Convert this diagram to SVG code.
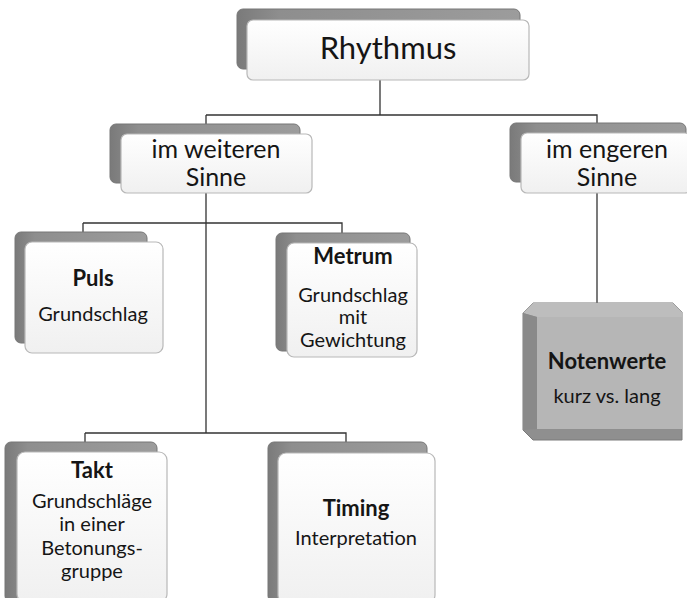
<svg xmlns="http://www.w3.org/2000/svg" width="687" height="598" viewBox="0 0 687 598">
<defs>
<linearGradient id="bk" x1="0" y1="0" x2="1" y2="0">
<stop offset="0" stop-color="#7a7a7a"/>
<stop offset="0.15" stop-color="#8e8e8e"/>
<stop offset="1" stop-color="#9c9c9c"/>
</linearGradient>
<linearGradient id="fr" x1="0" y1="0" x2="0" y2="1">
<stop offset="0" stop-color="#ffffff"/>
<stop offset="1" stop-color="#f0f0f0"/>
</linearGradient>
</defs>
<style>
.back{fill:url(#bk);stroke:#777;stroke-width:1}
.front{fill:url(#fr);stroke:#b8b8b8;stroke-width:1.2}
.t{font-family:Lato,"Open Sans",sans-serif;fill:#151515;text-anchor:middle}
.b{font-weight:bold}
.c{fill:none;stroke:#333;stroke-width:1.3}
</style>
<rect width="687" height="598" fill="#ffffff"/>
<g id="connectors">
<path class="c" d="M380 80V115M206 115H597V133M206 115V134"/>
<path class="c" d="M206 193V433M83 223H342V243M83 223V242"/>
<path class="c" d="M85 433H346V453M85 433V452"/>
<path class="c" d="M597 193V303"/>
</g>
<g id="rhythmus">
<rect class="back" x="237" y="9" width="283" height="60" rx="6"/>
<rect class="front" x="247" y="20" width="282" height="60" rx="6"/>
<text class="t" x="388" y="59" font-size="31">Rhythmus</text>
</g>
<g id="weiteren">
<rect class="back" x="110" y="124" width="190" height="59" rx="6"/>
<rect class="front" x="121" y="134" width="191" height="59" rx="6"/>
<text class="t" x="216" y="158" font-size="25">im weiteren</text>
<text class="t" x="216" y="186" font-size="25">Sinne</text>
</g>
<g id="engeren">
<rect class="back" x="510" y="123" width="176" height="59" rx="6"/>
<rect class="front" x="521" y="133" width="170" height="60" rx="6"/>
<text class="t" x="607" y="158" font-size="25">im engeren</text>
<text class="t" x="607" y="186" font-size="25">Sinne</text>
</g>
<g id="puls">
<rect class="back" x="15" y="232" width="132" height="111" rx="6"/>
<rect class="front" x="25" y="242" width="138" height="111" rx="7"/>
<text class="t b" x="93" y="286" font-size="22">Puls</text>
<text class="t" x="93" y="321" font-size="20">Grundschlag</text>
</g>
<g id="metrum">
<rect class="back" x="276" y="233" width="134" height="118" rx="6"/>
<rect class="front" x="287" y="243" width="130" height="114" rx="7"/>
<text class="t b" x="353" y="264" font-size="22">Metrum</text>
<text class="t" x="353" y="302" font-size="20">Grundschlag</text>
<text class="t" x="353" y="324" font-size="20">mit</text>
<text class="t" x="353" y="347" font-size="20">Gewichtung</text>
</g>
<g id="notenwerte">
<path d="M533 303H673L682 312V440H533L523 430V313Z" fill="#8f8f8f" stroke="#7a7a7a"/>
<path d="M533 303H673L682 312V317H537L523 313Z" fill="#bdbdbd"/>
<rect x="537" y="317" width="145" height="112" fill="#b6b6b6"/>
<path d="M523 313L537 317V429L523 430Z" fill="#8a8a8a"/>
<text class="t b" x="607" y="369" font-size="22">Notenwerte</text>
<text class="t" x="607" y="403" font-size="20">kurz vs. lang</text>
</g>
<g id="takt">
<rect class="back" x="5" y="442" width="152" height="160" rx="6"/>
<rect class="front" x="17" y="452" width="150" height="150" rx="8"/>
<text class="t b" x="92" y="478" font-size="22">Takt</text>
<text class="t" x="92" y="508" font-size="20">Grundschläge</text>
<text class="t" x="92" y="531" font-size="20">in einer</text>
<text class="t" x="92" y="555" font-size="20">Betonungs-</text>
<text class="t" x="92" y="578" font-size="20">gruppe</text>
</g>
<g id="timing">
<rect class="back" x="268" y="442" width="159" height="160" rx="6"/>
<rect class="front" x="278" y="453" width="157" height="150" rx="8"/>
<text class="t b" x="356" y="516" font-size="22">Timing</text>
<text class="t" x="356" y="545" font-size="20">Interpretation</text>
</g>
</svg>
